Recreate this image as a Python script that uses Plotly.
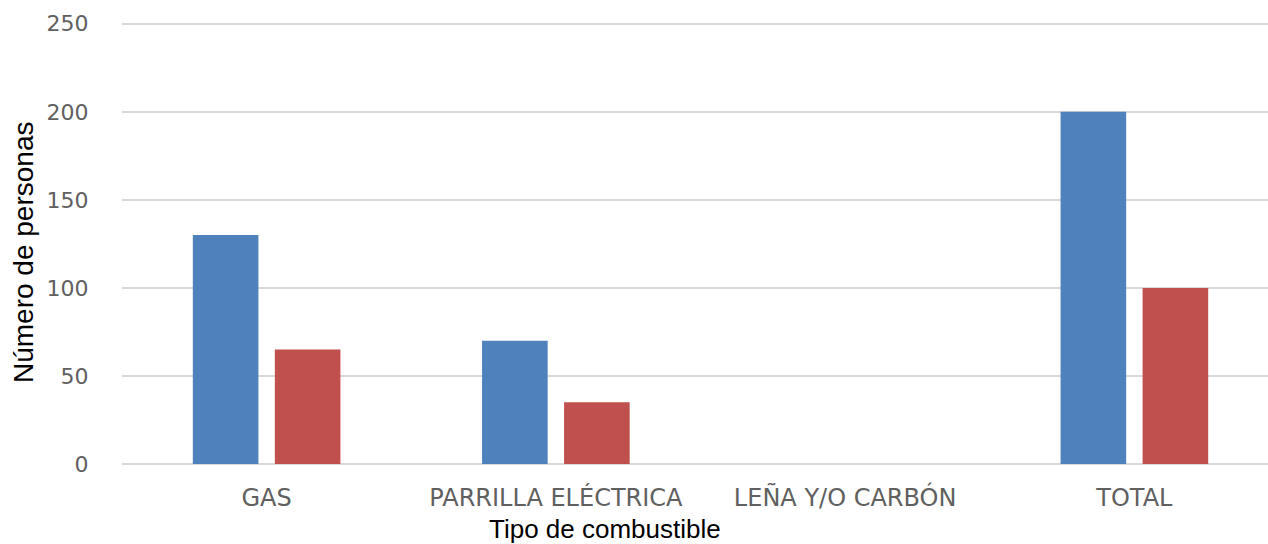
import plotly.graph_objects as go

categories = ["GAS", "PARRILLA ELÉCTRICA", "LEÑA Y/O CARBÓN", "TOTAL"]
series_a = [130, 70, 0, 200]
series_b = [65, 35, 0, 100]
y_ticks = [0, 50, 100, 150, 200, 250]

fig = go.Figure()
fig.add_trace(go.Bar(x=categories, y=series_a, marker=dict(color="#4F81BD", line=dict(width=0)), name="A"))
fig.add_trace(go.Bar(x=categories, y=series_b, marker=dict(color="#C0504D", line=dict(width=0)), name="B"))

tick_font_y = dict(family="DejaVu Sans, sans-serif", size=22, color="#606060")
tick_font_x = dict(family="DejaVu Sans, sans-serif", size=24, color="#606060")

# the reference plot area runs past the right edge of the picture (cropped)
W, H = 1279, 544
L, T, B = 122, 22, 80
fig.update_layout(
    width=W, height=H,
    margin=dict(l=L, r=0, t=T, b=B),
    paper_bgcolor="white", plot_bgcolor="white",
    showlegend=False,
    barmode="group", bargap=0.433, bargroupgap=0.20,
    xaxis=dict(showgrid=False, showline=False, tickfont=tick_font_x, tickangle=0,
               ticks="outside", ticklen=12, tickcolor="rgba(0,0,0,0)"),
    yaxis=dict(range=[0, 251], tickvals=y_ticks, showgrid=True, gridcolor="#D9D9D9", gridwidth=1.5,
               zeroline=True, zerolinecolor="#D9D9D9", zerolinewidth=2,
               tickfont=tick_font_y, ticks="outside", ticklen=28, tickcolor="rgba(0,0,0,0)"),
)

plot_w = W - L
plot_h = H - B - T
ann_font = dict(family="Liberation Sans, Arial, sans-serif", color="black")
fig.add_annotation(text="Tipo de combustible", x=(605 - L) / plot_w, y=(H - B - 529) / plot_h,
                   xref="paper", yref="paper", showarrow=False, xanchor="center", yanchor="middle",
                   font=dict(size=26, **ann_font))
fig.add_annotation(text="Número de personas", x=(24 - L) / plot_w, y=(H - B - 253) / plot_h,
                   xref="paper", yref="paper", showarrow=False, xanchor="center", yanchor="middle",
                   textangle=-90, font=dict(size=28, **ann_font))

fig.write_html("out.html", config={"displayModeBar": False},
               post_script="document.body.style.margin='0';document.body.style.overflow='hidden';")
